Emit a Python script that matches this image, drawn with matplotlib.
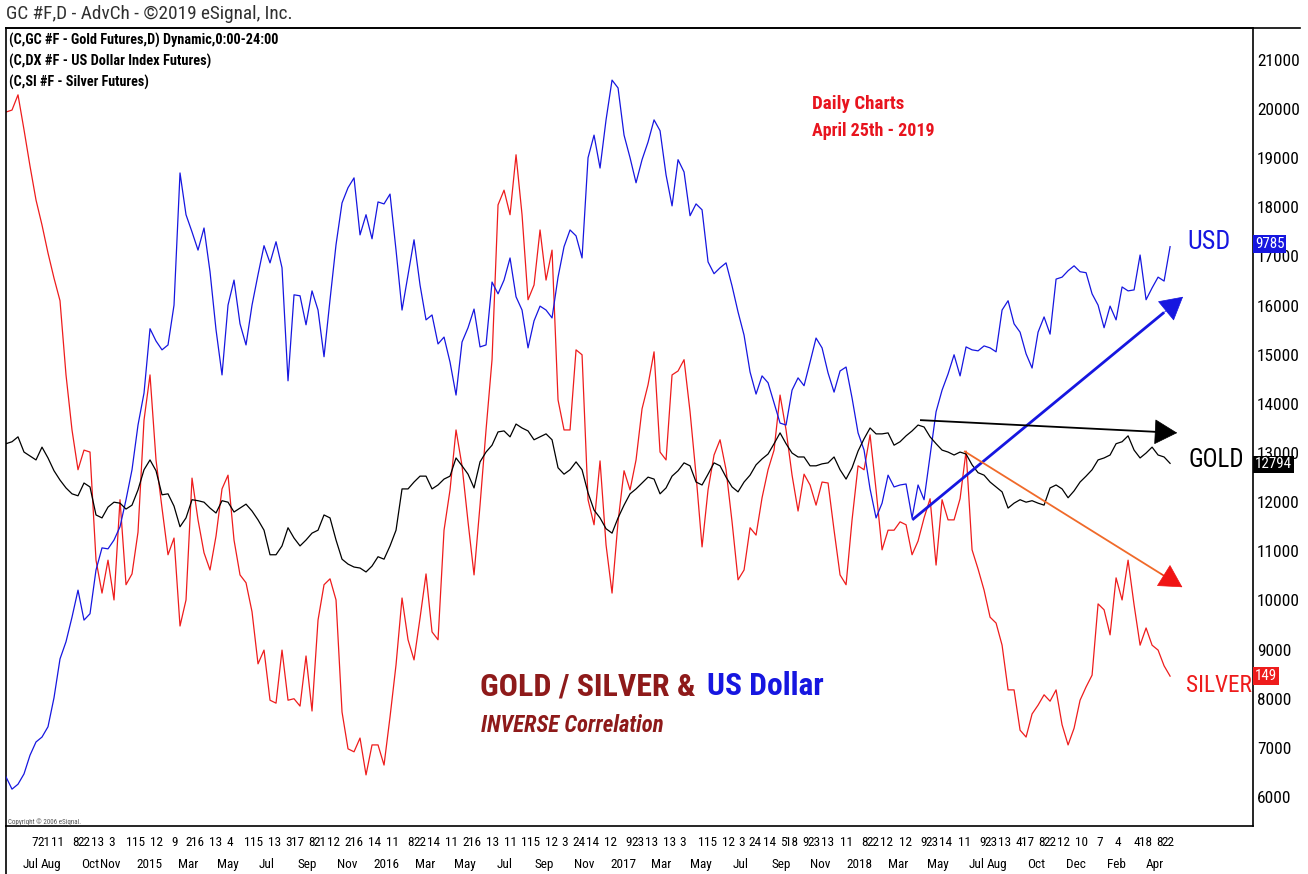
import matplotlib
matplotlib.use("Agg")
import matplotlib.pyplot as plt
import matplotlib.dates as mdates
from matplotlib import font_manager as fm
from matplotlib.lines import Line2D
from matplotlib.transforms import blended_transform_factory
import pandas as pd

# ---------------- data (chart units of the overlay scale) ----------------
start_date = "2014-05-24"
end_date = "2019-04-25"
n_points = 195

gold = [13190, 13230, 13330, 13020, 12940, 12860, 13120, 12900, 12640, 12450,
        12290, 12170, 12130, 12390, 12310, 11740, 11680, 11900, 12000, 11980,
        11860, 11940, 12250, 12660, 12860, 12640, 12150, 12170, 11920, 11500,
        11680, 12050, 12030, 12000, 11880, 11780, 12030, 12000, 11800, 11880,
        11960, 11820, 11640, 11430, 10930, 10930, 11110, 11480, 11270, 11110,
        11230, 11370, 11430, 11740, 11680, 11230, 10840, 10740, 10680, 10660,
        10580, 10700, 10890, 10840, 11110, 11430, 12270, 12270, 12410, 12530,
        12530, 12270, 12350, 12470, 12530, 12900, 12740, 12570, 12290, 12820,
        13020, 13160, 13430, 13450, 13330, 13590, 13510, 13450, 13270, 13330,
        13390, 13270, 12700, 12570, 12660, 12820, 12660, 12190, 11840, 11680,
        11460, 11370, 11680, 11940, 12170, 12270, 12390, 12510, 12470, 12170,
        12290, 12530, 12640, 12800, 12740, 12410, 12350, 12570, 12800, 12740,
        12510, 12310, 12210, 12410, 12550, 12760, 12880, 12980, 13190, 13410,
        13190, 13000, 12920, 12920, 12740, 12740, 12780, 12800, 12920, 12660,
        12470, 12700, 13040, 13290, 13510, 13390, 13390, 13410, 13160, 13230,
        13350, 13450, 13570, 13530, 13330, 13190, 13060, 13020, 12960, 13020,
        12980, 12760, 12600, 12550, 12410, 12310, 12210, 11880, 11980, 12050,
        12000, 12030, 11980, 11940, 12290, 12350, 12270, 12090, 12230, 12410,
        12530, 12660, 12860, 12900, 12960, 13190, 13230, 13350, 13060, 12900,
        13000, 13120, 12960, 12920, 12790]

usd = [6410, 6160, 6260, 6470, 6850, 7120, 7220, 7430, 8020, 8810,
       9160, 9660, 10210, 9600, 9730, 10620, 11070, 11050, 11230, 11500,
       12050, 12660, 13570, 14220, 15530, 15280, 15100, 15200, 16010, 18700,
       17850, 17500, 17130, 17580, 16690, 15510, 14590, 16010, 16520, 15630,
       15200, 16010, 16630, 17220, 16870, 17300, 16770, 14470, 16220, 16200,
       15610, 16300, 15910, 14960, 16120, 17240, 18090, 18400, 18600, 17440,
       17850, 17360, 18110, 18070, 18270, 17130, 15910, 16630, 17340, 16420,
       15710, 15810, 15220, 15360, 14850, 14180, 15260, 15550, 15930, 15160,
       15200, 16480, 16240, 16520, 16970, 16180, 15910, 15140, 15690, 15990,
       15910, 15750, 16580, 17200, 17540, 17420, 16970, 19010, 19470, 18800,
       19780, 20590, 20430, 19470, 19010, 18500, 18970, 19330, 19780, 19560,
       18660, 18030, 18970, 18720, 17830, 18070, 17950, 16890, 16650, 16770,
       16870, 16400, 15870, 15400, 14650, 14200, 14570, 14430, 14020, 13610,
       13570, 14280, 14530, 14370, 14850, 15340, 15140, 14630, 14240, 14670,
       14750, 14120, 13410, 13060, 12270, 11680, 11980, 12550, 12310, 12350,
       12370, 11680, 12350, 12050, 12940, 13840, 14280, 14610, 15000, 14570,
       15160, 15100, 15080, 15180, 15140, 15060, 15910, 16100, 15630, 15460,
       15020, 14730, 15460, 15770, 15420, 16540, 16580, 16710, 16810, 16690,
       16670, 16240, 16010, 15550, 15990, 15710, 16380, 16300, 16320, 17030,
       16120, 16360, 16580, 16500, 17200]

silver = [19940, 19980, 20290, 19580, 18840, 18150, 17640, 17070, 16560, 16100,
          14590, 13470, 12660, 13060, 13020, 10820, 10150, 10820, 10010, 12050,
          10320, 10540, 11390, 13670, 14590, 12860, 11880, 10930, 11270, 9480,
          10010, 12490, 11640, 10970, 10620, 11310, 12270, 12550, 11230, 10520,
          10360, 9770, 8710, 8990, 7970, 7910, 8990, 7970, 8000, 7850,
          8870, 7750, 9600, 10320, 10440, 10010, 7730, 6980, 6920, 7200,
          6450, 7060, 7060, 6650, 7630, 8690, 10050, 9200, 8790, 9640,
          10540, 9360, 9200, 11430, 12250, 13470, 12740, 11600, 10520, 11940,
          13470, 14900, 18050, 18350, 17850, 19070, 17850, 16120, 16420, 17540,
          16520, 17130, 14080, 13470, 13470, 15100, 15000, 12050, 11540, 12840,
          11130, 10150, 11600, 12640, 12250, 12860, 13900, 14390, 15060, 13020,
          12860, 14590, 14670, 14900, 13840, 12550, 11090, 12250, 12960, 13270,
          12660, 11600, 10420, 10620, 11480, 11330, 12090, 12660, 13060, 14180,
          13470, 12550, 11820, 12570, 12350, 11940, 12410, 12390, 11430, 10520,
          10320, 11640, 12740, 12660, 13370, 12250, 11030, 11430, 11430, 11600,
          11540, 10930, 11210, 11680, 12070, 10720, 12050, 11640, 11640, 12070,
          13040, 11030, 10640, 10210, 9660, 9540, 9090, 8180, 8180, 7360,
          7220, 7690, 7870, 8080, 7950, 8180, 7470, 7060, 7400, 7970,
          8240, 8480, 9930, 9810, 9300, 10460, 10010, 10820, 9910, 9090,
          9440, 9090, 8990, 8670, 8460]

last_labels = {"usd": "9785", "gold": "12794", "silver": "149"}

y_ticks = list(range(6000, 21001, 1000))

day_tick_dates = [
    "2014-07-07", "2014-07-21", "2014-08-11", "2014-09-08", "2014-09-22", "2014-10-13",
    "2014-11-03", "2014-12-01", "2014-12-15",
    "2015-01-12", "2015-02-09", "2015-03-02", "2015-03-16", "2015-04-13", "2015-05-04",
    "2015-06-01", "2015-06-15", "2015-07-13", "2015-08-03", "2015-08-17", "2015-09-08",
    "2015-09-21", "2015-10-12", "2015-11-02", "2015-11-16", "2015-12-14",
    "2016-01-11", "2016-02-08", "2016-02-22", "2016-03-14", "2016-04-11", "2016-05-02",
    "2016-05-16", "2016-06-13", "2016-07-11", "2016-08-01", "2016-08-15", "2016-09-12",
    "2016-10-03", "2016-10-24", "2016-11-14", "2016-12-12",
    "2017-01-09", "2017-01-23", "2017-02-13", "2017-03-13", "2017-04-03", "2017-05-01",
    "2017-05-15", "2017-06-12", "2017-07-03", "2017-07-24", "2017-08-14", "2017-09-05",
    "2017-09-18", "2017-10-09", "2017-10-23", "2017-11-13", "2017-12-11",
    "2018-01-08", "2018-01-22", "2018-02-12", "2018-03-12", "2018-04-09", "2018-04-23",
    "2018-05-14", "2018-06-11", "2018-07-09", "2018-07-23", "2018-08-13", "2018-09-04",
    "2018-09-17", "2018-10-08", "2018-10-22", "2018-11-12", "2018-12-10",
    "2019-01-07", "2019-02-04", "2019-03-04", "2019-03-18", "2019-04-08", "2019-04-22"]

month_tick_dates = [
    "2014-07-01", "2014-08-01", "2014-10-01", "2014-11-01", "2015-01-01", "2015-03-01",
    "2015-05-01", "2015-07-01", "2015-09-01", "2015-11-01", "2016-01-01", "2016-03-01",
    "2016-05-01", "2016-07-01", "2016-09-01", "2016-11-01", "2017-01-01", "2017-03-01",
    "2017-05-01", "2017-07-01", "2017-09-01", "2017-11-01", "2018-01-01", "2018-03-01",
    "2018-05-01", "2018-07-01", "2018-08-01", "2018-10-01", "2018-12-01", "2019-02-01",
    "2019-04-01"]
month_tick_labels = ["Jul", "Aug", "Oct", "Nov", "2015", "Mar", "May", "Jul", "Sep", "Nov",
                     "2016", "Mar", "May", "Jul", "Sep", "Nov", "2017", "Mar", "May", "Jul",
                     "Sep", "Nov", "2018", "Mar", "May", "Jul", "Aug", "Oct", "Dec", "Feb",
                     "Apr"]

# trend arrows drawn on the chart: (date, value) -> (date, value)
usd_trend = (("2018-03-23", 11640), ("2019-05-15", 16180))
gold_trend = (("2018-04-04", 13670), ("2019-05-06", 13410))
silver_trend = (("2018-06-11", 13040), ("2019-05-14", 10270))

# ---------------- fonts: prefer a narrow / condensed sans ----------------
_entries = fm.fontManager.ttflist
_names = {f.name for f in _entries}
FONT, STRETCH = "Liberation Sans", "normal"
_cond_stretch = ("condensed", "semi-condensed", "extra-condensed", "ultra-condensed")
for cand in ["Liberation Sans Narrow", "Arial Narrow", "Roboto Condensed",
             "Open Sans Condensed", "Noto Sans Condensed", "DejaVu Sans Condensed"]:
    if cand in _names:
        FONT, STRETCH = cand, "normal"
        break
else:
    for fam in ["Liberation Sans", "Roboto", "Noto Sans", "Open Sans", "DejaVu Sans"]:
        hits = [f for f in _entries if f.name == fam and str(f.stretch) in _cond_stretch]
        if hits:
            FONT, STRETCH = fam, str(hits[0].stretch)
            break
plt.rcParams["font.family"] = [FONT, "DejaVu Sans"]
plt.rcParams["font.stretch"] = STRETCH

BLUE = "#1616E0"
RED = "#EE1C1C"
DARKRED = "#8E1A1A"
W, H = 1308, 874

fig = plt.figure(figsize=(W / 100, H / 100), dpi=100)
fig.patch.set_facecolor("white")
ax = fig.add_axes([6 / W, 1 - 826 / H, (1253 - 6) / W, (826 - 28) / H])
renderer = fig.canvas.get_renderer()


def size_for(text, width_px, weight="normal", base=10):
    t = fig.text(0, 0, text, fontsize=base, fontweight=weight)
    w = t.get_window_extent(renderer).width
    t.remove()
    return base * width_px / w


dates = pd.date_range(start_date, end_date, periods=n_points)
ax.plot(dates, silver, color=RED, lw=0.9, zorder=2)
ax.plot(dates, usd, color=BLUE, lw=0.9, zorder=3)
ax.plot(dates, gold, color="black", lw=0.9, zorder=4)

ax.set_xlim(mdates.date2num(pd.Timestamp("2014-05-24")), mdates.date2num(pd.Timestamp("2019-08-31")))
ax.set_ylim(5410, 21650)

# y axis on the right
ax.yaxis.tick_right()
ax.set_yticks(y_ticks)
ax.set_yticklabels([str(v) for v in y_ticks])
ax.tick_params(axis="y", length=0, pad=3, labelsize=size_for("21000", 42))

# x axis: day numbers + month names
xs = size_for("2015", 26)
ax.xaxis.remove_overlapping_locs = False
dd = pd.to_datetime(day_tick_dates)
ax.set_xticks(mdates.date2num(dd))
ax.set_xticklabels([str(d.day) for d in dd])
ax.set_xticks(mdates.date2num(pd.to_datetime(month_tick_dates)), minor=True)
ax.set_xticklabels(month_tick_labels, minor=True)
ax.tick_params(axis="x", which="major", length=0, pad=7, labelsize=xs)
ax.tick_params(axis="x", which="minor", length=0, pad=23, labelsize=xs)
for s in ax.spines.values():
    s.set_linewidth(1.2)
    s.set_color("black")


# trend arrows
def dn(d):
    return mdates.date2num(pd.Timestamp(d))


def arrow(tr, line_color, head_color, lw):
    (d0, v0), (d1, v1) = tr
    x0, x1 = dn(d0), dn(d1)
    ax.plot([x0, x0 + 0.93 * (x1 - x0)], [v0, v0 + 0.93 * (v1 - v0)],
            color=line_color, lw=lw, zorder=6, solid_capstyle="butt")
    ax.annotate("", xy=(x1, v1), xytext=(x0 + 0.9 * (x1 - x0), v0 + 0.9 * (v1 - v0)),
                arrowprops=dict(arrowstyle="-|>,head_length=0.45,head_width=0.25",
                                color=head_color, lw=0.5, shrinkA=0, shrinkB=0,
                                mutation_scale=34), zorder=7)


arrow(usd_trend, BLUE, BLUE, 2.0)
arrow(gold_trend, "black", "black", 1.3)
arrow(silver_trend, "#F06A2A", "#F01414", 1.3)

# last value boxes on the price scale
bt = blended_transform_factory(ax.transAxes, ax.transData)
bs = size_for("12794", 37)
for val, lab, col in [(usd[-1] + 50, last_labels["usd"], BLUE),
                      (gold[-1] - 20, last_labels["gold"], "black"),
                      (silver[-1], last_labels["silver"], RED)]:
    ax.text(1.0015, val, lab, transform=bt, ha="left", va="center", color="white",
            fontsize=bs, clip_on=False, zorder=10,
            bbox=dict(boxstyle="square,pad=0.12", fc=col, ec="none"))


# ---------------- texts ----------------
def P(x, y):
    return (x / W, 1 - y / H)


def fit(t, width_px):
    w = t.get_window_extent(renderer).width
    t.set_fontsize(t.get_fontsize() * width_px / w)
    return t


fit(fig.text(*P(6, 14), "GC #F,D - AdvCh - ©2019 eSignal, Inc.", ha="left", va="center",
             fontsize=13, color="#303030"), 287)
fit(fig.text(*P(9, 40), "(C,GC #F - Gold Futures,D) Dynamic,0:00-24:00", ha="left",
             va="center", fontsize=9, fontweight="bold"), 270)
fit(fig.text(*P(9, 61), "(C,DX #F - US Dollar Index Futures)", ha="left",
             va="center", fontsize=9, fontweight="bold"), 203)
fit(fig.text(*P(9, 82), "(C,SI #F - Silver Futures)", ha="left",
             va="center", fontsize=9, fontweight="bold"), 140)
fig.text(*P(8, 822), "Copyright © 2006 eSignal.", ha="left", va="center",
         fontsize=5, color="#555555")

fit(fig.text(*P(812, 104), "Daily Charts", ha="left", va="center", fontsize=14,
             fontweight="bold", color="#E8141E"), 93)
fit(fig.text(*P(812, 131), "April 25th - 2019", ha="left", va="center", fontsize=14,
             fontweight="bold", color="#E8141E"), 123)

fit(fig.text(*P(1187, 242), "USD", ha="left", va="center", fontsize=16, color=BLUE), 43)
fit(fig.text(*P(1189, 460), "GOLD", ha="left", va="center", fontsize=16, color="black"), 56)
fit(fig.text(*P(1186, 685), "SILVER", ha="left", va="center", fontsize=16, color=RED), 66)

fit(fig.text(*P(480, 686), "GOLD / SILVER &", ha="left", va="center", fontsize=24,
             fontweight="bold", color=DARKRED), 215)
fit(fig.text(*P(707, 686), "US Dollar", ha="left", va="center", fontsize=24,
             fontweight="bold", color=BLUE), 117)
fit(fig.text(*P(481, 725), "INVERSE Correlation", ha="left", va="center", fontsize=16,
             fontweight="bold", fontstyle="italic", color=DARKRED), 183)

# window border lines
fig.add_artist(Line2D([6 / W, 1300 / W], [1 - 28 / H, 1 - 28 / H], color="black", lw=1.2))
fig.add_artist(Line2D([6 / W, 6 / W], [0, 1 - 826 / H], color="black", lw=1.2))

fig.savefig("out.png", dpi=100, facecolor="white")
